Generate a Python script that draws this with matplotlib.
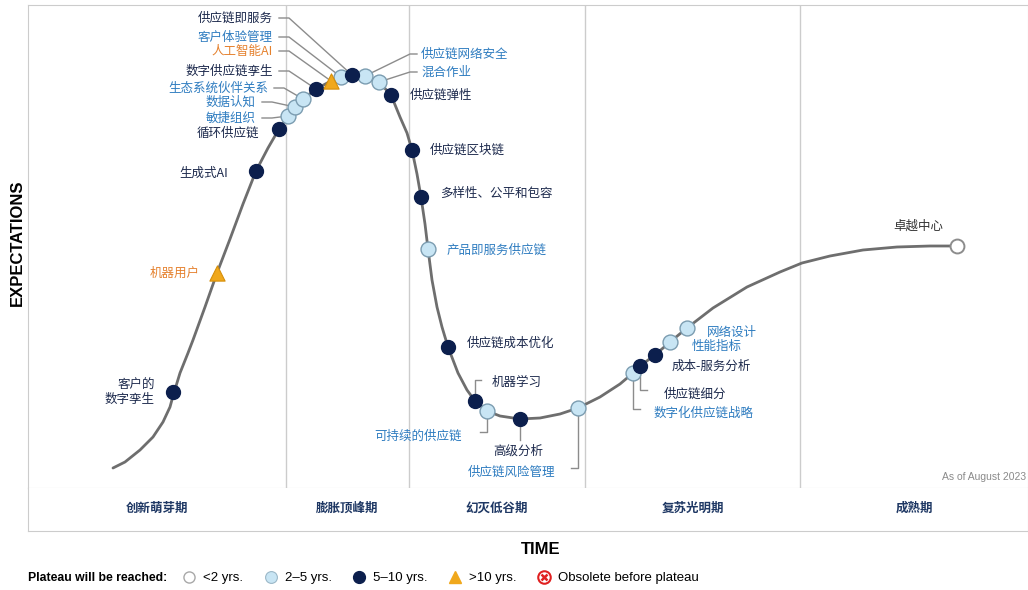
import numpy as np
import matplotlib.pyplot as plt
from matplotlib.lines import Line2D
from matplotlib.legend_handler import HandlerTuple

plt.rcParams['font.family'] = ['Noto Sans CJK SC', 'DejaVu Sans']

# hype curve (time, expectations)
curve_x = [85, 97, 112, 125, 135, 142, 145, 152, 160, 165, 177, 189, 202, 215, 228, 240, 251, 260, 267,
           275, 288, 303, 313, 324, 337, 351, 363, 372, 379, 384, 389, 393, 397, 400, 404, 409, 414,
           420, 430, 439, 447, 459, 472, 492, 512, 532, 550, 572, 592, 605, 612, 627, 642, 659, 685,
           719, 752, 774, 802, 835, 869, 902, 929]
curve_y = [20, 26, 38, 51, 66, 81, 92, 115, 135, 148, 181, 215, 249, 284, 317, 340, 359, 372, 381,
           389, 399, 407, 411, 413, 412, 406, 393, 371, 355, 338, 314, 291, 264, 239, 208, 181, 161,
           141, 115, 98, 87, 77, 72, 69, 70, 74, 80, 91, 104, 115, 122, 133, 146, 160, 180,
           201, 216, 225, 232, 238, 241, 242, 242]

# technologies on the curve
names = ['客户的\n数字孪生', '机器用户', '生成式AI', '循环供应链', '敏捷组织', '数据认知', '生态系统伙伴关系',
         '数字供应链孪生', '人工智能AI', '客户体验管理', '供应链即服务', '供应链网络安全', '混合作业', '供应链弹性',
         '供应链区块链', '多样性、公平和包容', '产品即服务供应链', '供应链成本优化', '机器学习', '可持续的供应链',
         '高级分析', '供应链风险管理', '数字化供应链战略', '供应链细分', '成本-服务分析', '性能指标', '网络设计', '卓越中心']
tech_x = [145, 189, 228, 251, 260, 267, 275, 288, 303, 313, 324, 337, 351, 363, 384, 393, 400, 420,
          447, 459, 492, 550, 605, 612, 627, 642, 659, 929]
tech_y = [96, 215, 317, 359, 372, 381, 389, 399, 407, 411, 413, 412, 406, 393, 338, 291, 239, 141,
          87, 77, 69, 80, 115, 122, 133, 146, 160, 242]
plateau = ['5-10', '>10', '5-10', '5-10', '2-5', '2-5', '2-5', '5-10', '>10', '2-5', '5-10', '2-5',
           '2-5', '5-10', '5-10', '5-10', '2-5', '5-10', '5-10', '2-5', '5-10', '2-5', '2-5', '5-10',
           '5-10', '2-5', '2-5', '<2']

phase_names = ['创新萌芽期', '膨胀顶峰期', '幻灭低谷期', '复苏光明期', '成熟期']
phase_edges = [0, 258, 381, 557, 772, 1000]

legend_labels = ['<2 yrs.', '2–5 yrs.', '5–10 yrs.', '>10 yrs.', 'Obsolete before plateau']

# label placement: (x, y, ha, leader kind)
label_pos = [
    (127, 96, 'right', None), (172, 215, 'right', None), (200, 315, 'right', None),
    (231, 355, 'right', None), (228, 370, 'right', 'left'), (228, 386, 'right', 'left'),
    (240, 400, 'right', 'left'), (245, 417, 'right', 'left'), (245, 437, 'right', 'left'),
    (245, 451, 'right', 'left'), (245, 470, 'right', 'left'), (393, 434, 'left', 'right'),
    (393, 416, 'left', 'right'), (382, 393, 'left', None), (402, 338, 'left', None),
    (412, 295, 'left', None), (419, 238, 'left', None), (439, 145, 'left', None),
    (464, 106, 'left', 'up'), (434, 52, 'right', 'down_left'), (490, 37, 'center', 'down'),
    (484, 16, 'center', 'down_left'), (626, 75, 'left', 'down_right'), (636, 94, 'left', 'down_right'),
    (644, 122, 'left', None), (664, 142, 'left', None), (679, 156, 'left', None),
    (890, 262, 'center', None),
]

marker_style = {
    '<2': dict(marker='o', s=100, c='white', edgecolors='#8c8c8c', linewidths=1.4),
    '2-5': dict(marker='o', s=115, c='#c8e5f4', edgecolors='#7b9cb0', linewidths=1.0),
    '5-10': dict(marker='o', s=100, c='#0c1f4d', edgecolors='#0c1f4d', linewidths=1.0),
    '>10': dict(marker='^', s=120, c='#f0a81c', edgecolors='#d68f0a', linewidths=0.8),
}
text_color = {'<2': '#333333', '2-5': '#2e7cc0', '5-10': '#1d2a4d', '>10': '#e5812e'}
grid_c = '#cccccc'

fig = plt.figure(figsize=(10.28, 5.9), dpi=100)
ax = fig.add_axes([28 / 1028, 102 / 590, 1000 / 1028, 483 / 590])
ax.set_xlim(0, 1000)
ax.set_ylim(0, 483)
ax.set_xticks([])
ax.set_yticks([])
for side in ['left', 'top', 'bottom', 'right']:
    ax.spines[side].set_color(grid_c)
for e in phase_edges[1:-1]:
    ax.axvline(e, color=grid_c, lw=1, zorder=0)

ax.plot(curve_x, curve_y, color='#6e6e6e', lw=2.0, zorder=1, solid_capstyle='round',
        solid_joinstyle='round')

# labels and leader lines
for name, x0, y0, p, (tx, ty, ha, kind) in zip(names, tech_x, tech_y, plateau, label_pos):
    ax.text(tx, ty, name, ha=ha, va='center', fontsize=9, color=text_color[p],
            multialignment='right', linespacing=1.1, zorder=4)
    pts = None
    if kind == 'left':
        pts = [(tx + 6, ty), (tx + 16, ty), (x0, y0)]
    elif kind == 'right':
        pts = [(x0, y0), (tx - 11, ty), (tx - 4, ty)]
    elif kind == 'up':
        pts = [(x0, y0), (x0, ty + 2), (x0 + 6, ty + 2)]
    elif kind == 'down_left':
        pts = [(x0, y0), (x0, ty + 4), (x0 - 7, ty + 4)]
    elif kind == 'down_right':
        pts = [(x0, y0), (x0, ty + 4), (x0 + 7, ty + 4)]
    elif kind == 'down':
        pts = [(x0, y0), (x0, ty + 11)]
    if pts:
        px, py = zip(*pts)
        ax.plot(px, py, color='#8c8c8c', lw=1, zorder=2)

for key, st in marker_style.items():
    idx = [i for i, p in enumerate(plateau) if p == key]
    ax.scatter([tech_x[i] for i in idx], [tech_y[i] for i in idx], zorder=3, **st)

ax.text(0.998, 0.022, 'As of August 2023', transform=ax.transAxes, ha='right', va='center',
        fontsize=7.5, color='#8a8a8a', family='Liberation Sans')

# phase band
band = fig.add_axes([28 / 1028, 59 / 590, 1000 / 1028, 43 / 590])
band.set_xlim(0, 1000)
band.set_ylim(0, 1)
band.set_xticks([])
band.set_yticks([])
for side in ['left', 'bottom', 'right']:
    band.spines[side].set_color(grid_c)
band.spines['top'].set_visible(False)
for i, ph in enumerate(phase_names):
    band.text((phase_edges[i] + phase_edges[i + 1]) / 2, 0.52, ph, ha='center', va='center',
              fontsize=9, fontweight='bold', color='#1f3864')

fig.text(17 / 1028, 1 - 243 / 590, 'EXPECTATIONS', rotation=90, ha='center', va='center',
         fontsize=12, fontweight='bold', family='Liberation Sans')
fig.text(541 / 1028, 1 - 549 / 590, 'TIME', ha='center', va='center',
         fontsize=12, fontweight='bold', family='Liberation Sans')

# legend
fig.text(28 / 1028, 1 - 578 / 590, 'Plateau will be reached:', ha='left', va='center',
         fontsize=8.8, fontweight='bold', family='Liberation Sans')
handles = [
    Line2D([], [], ls='', marker='o', ms=8, mfc='white', mec='#a8a8a8', mew=1),
    Line2D([], [], ls='', marker='o', ms=8.5, mfc='#c8e5f4', mec='#9bb8c8', mew=0.8),
    Line2D([], [], ls='', marker='o', ms=8.5, mfc='#0c1f4d', mec='#0c1f4d'),
    Line2D([], [], ls='', marker='^', ms=9, mfc='#f0a81c', mec='#f0a81c'),
    (Line2D([], [], ls='', marker='o', ms=9, mfc='white', mec='#e02020', mew=1.5),
     Line2D([], [], ls='', marker='x', ms=4.5, mec='#e02020', mew=1.8)),
]
fig.legend(handles, legend_labels, loc='center left', bbox_to_anchor=(176 / 1028, 1 - 578 / 590),
           ncol=5, frameon=False, handletextpad=0.45, columnspacing=1.5, handlelength=1.2,
           borderaxespad=0, prop={'family': 'Liberation Sans', 'size': 9.5},
           handler_map={tuple: HandlerTuple(ndivide=1)})

fig.savefig('out.png', dpi=100)
